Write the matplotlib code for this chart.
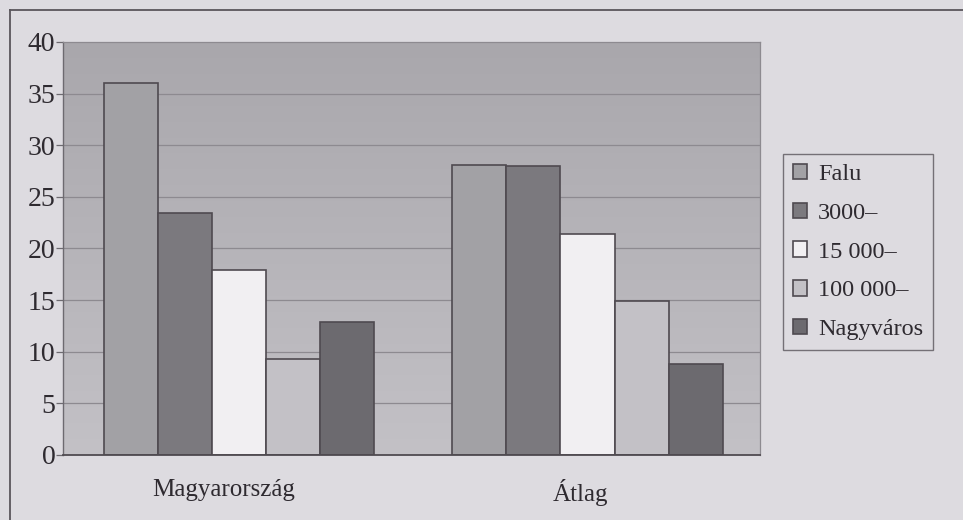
import numpy as np
import matplotlib
matplotlib.use("Agg")
import matplotlib.pyplot as plt
from matplotlib.lines import Line2D
from matplotlib.colors import LinearSegmentedColormap
from matplotlib.transforms import ScaledTranslation

# Data
categories = ["Magyarország", "Átlag"]
series_names = ["Falu", "3000–", "15 000–", "100 000–", "Nagyváros"]
falu = [36.0, 28.1]
s3000 = [23.4, 28.0]
s15000 = [17.9, 21.4]
s100000 = [9.3, 14.9]
nagyvaros = [12.9, 8.8]
yticks = [0, 5, 10, 15, 20, 25, 30, 35, 40]

series_values = [falu, s3000, s15000, s100000, nagyvaros]
bar_colors = ["#a2a1a5", "#7b797e", "#f1eff2", "#c3c1c6", "#6c6a6f"]
edge_color = "#4f4a50"
page_color = "#dddbe0"
text_color = "#2e2a30"

plt.rcParams["font.family"] = ["Liberation Serif", "DejaVu Serif"]

fig = plt.figure(figsize=(9.63, 5.2), dpi=100, facecolor=page_color)
ax = fig.add_axes([63 / 963, 65 / 520, 697 / 963, 413 / 520])
ax.set_facecolor("none")

# Vertical shading of the plot area
grad = np.linspace(0, 1, 256).reshape(-1, 1)
cmap = LinearSegmentedColormap.from_list("bg", ["#c3c1c6", "#a9a7ac"])
ax.imshow(grad, aspect="auto", cmap=cmap, extent=(-0.5, 1.5, 0, 40),
          origin="lower", zorder=0)

# Gridlines
for t in yticks[1:-1]:
    ax.axhline(t, color="#8d8a90", lw=0.9, zorder=1)

x = np.arange(len(categories))
width = 0.155
for i, (name, vals, col) in enumerate(zip(series_names, series_values, bar_colors)):
    ax.bar(x + (i - 2) * width + 0.005, vals, width=width, color=col,
           edgecolor=edge_color, linewidth=1.2, label=name, zorder=2)

ax.set_xlim(-0.5, 1.5)
ax.set_ylim(0, 40)
ax.set_yticks(yticks)
ax.set_yticklabels([str(t) for t in yticks], fontsize=20, color=text_color)
ax.set_xticks(x)
ax.set_xticklabels(categories, fontsize=18, color=text_color)
ax.tick_params(axis="x", length=0, pad=17)
ax.tick_params(axis="y", length=5, width=0.9, color="#6d6a70", pad=0.5)

# Category labels sit slightly left of the group centres
for lbl, dx in zip(ax.get_xticklabels(), [-14, -5]):
    lbl.set_transform(lbl.get_transform() + ScaledTranslation(dx / 100, 0, fig.dpi_scale_trans))

for side in ["top", "right"]:
    ax.spines[side].set_color("#8d8a90")
    ax.spines[side].set_linewidth(0.9)
ax.spines["left"].set_color("#6d6a70")
ax.spines["left"].set_linewidth(1.0)
ax.spines["bottom"].set_color("#4f4a50")
ax.spines["bottom"].set_linewidth(1.3)
for s in ax.spines.values():
    s.set_zorder(3)

leg = fig.legend(loc="upper left", bbox_to_anchor=(783 / 963, 1 - 154 / 520),
                 fontsize=17.5, frameon=True, fancybox=False,
                 handlelength=0.6, handleheight=0.6, handletextpad=0.45,
                 labelspacing=0.72, borderpad=0.4, borderaxespad=0)
leg.get_frame().set_facecolor(page_color)
leg.get_frame().set_edgecolor("#5a565c")
leg.get_frame().set_linewidth(1.0)
for t in leg.get_texts():
    t.set_color(text_color)

# Outer frame around the figure
fig.add_artist(Line2D([10 / 963, 10 / 963], [0, 1 - 10 / 520],
                      transform=fig.transFigure, color="#5a565c", lw=1.3))
fig.add_artist(Line2D([10 / 963, 1], [1 - 10 / 520, 1 - 10 / 520],
                      transform=fig.transFigure, color="#5a565c", lw=1.3))

fig.savefig("out.png", dpi=100, facecolor=page_color)
